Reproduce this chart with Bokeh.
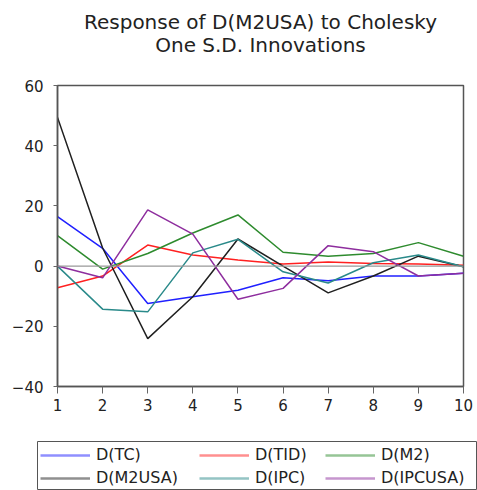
from bokeh.plotting import figure
from bokeh.layouts import column
from bokeh.models import Range1d, Legend, LegendItem, Span, FixedTicker, Title
from bokeh.embed import file_html
from bokeh.resources import INLINE

periods = [1, 2, 3, 4, 5, 6, 7, 8, 9, 10]
d_tc = [16.4, 5.9, -12.4, -10.2, -8.0, -3.9, -4.9, -3.3, -3.3, -2.4]
d_tid = [-7.2, -3.3, 7.0, 3.7, 2.0, 0.7, 1.4, 0.9, 0.7, 0.3]
d_m2 = [10.1, -1.0, 4.2, 11.0, 17.0, 4.6, 3.3, 4.2, 7.8, 3.3]
d_m2usa = [49.4, 6.0, -24.1, -10.2, 9.0, 0.0, -8.9, -3.3, 3.3, -0.2]
d_ipc = [0.0, -14.3, -15.2, 4.4, 8.9, -1.9, -5.6, 1.1, 3.7, -0.2]
d_ipcusa = [0.0, -3.9, 18.7, 10.6, -11.0, -7.4, 6.8, 4.8, -3.3, -2.4]

series = [
    ("D(TC)", d_tc, "#2020ff"),
    ("D(TID)", d_tid, "#ff2020"),
    ("D(M2)", d_m2, "#2e8b2e"),
    ("D(M2USA)", d_m2usa, "#202020"),
    ("D(IPC)", d_ipc, "#2a8a8a"),
    ("D(IPCUSA)", d_ipcusa, "#8e2e9e"),
]

FONT = "DejaVu Sans"

p = figure(width=477, height=430, output_backend="svg", toolbar_location=None,
           x_range=Range1d(1, 10), y_range=Range1d(-40, 60),
           min_border_left=57, min_border_right=14, min_border_top=85,
           min_border_bottom=44)
p.grid.visible = False
p.outline_line_color = "#555555"
p.outline_line_width = 1.5
p.background_fill_color = "white"
p.border_fill_color = "white"

# titles: first added sits closest to the frame
spacer = Title(text=" ", text_font_size="1px", standoff=26)
t2 = Title(text="One S.D. Innovations", align="center", text_font=FONT,
           text_font_size="20px", text_font_style="normal", text_color="#222222",
           standoff=0)
t1 = Title(text="Response of D(M2USA) to Cholesky", align="center",
           text_font=FONT, text_font_size="20px",
           text_font_style="normal", text_color="#222222", standoff=0)
try:
    t1.standoff = -6
except Exception:
    pass
p.add_layout(spacer, "above")
p.add_layout(t2, "above")
p.add_layout(t1, "above")

p.add_layout(Span(location=0, dimension="width", line_color="#999999", line_width=1.2))

for name, vals, col in series:
    p.line(periods, vals, line_color=col, line_width=1.5)

for ax in (p.xaxis[0], p.yaxis[0]):
    ax.axis_line_color = "#555555"
    ax.axis_line_width = 1.5
    ax.major_tick_line_color = "#666666"
    ax.minor_tick_line_color = None
    ax.major_tick_in = 0
    ax.major_label_text_font = FONT
    ax.major_label_text_font_size = "15px"
    ax.major_label_text_color = "#222222"

p.xaxis[0].ticker = FixedTicker(ticks=periods)
p.xaxis[0].major_tick_out = 7
p.xaxis[0].major_label_standoff = 5
p.yaxis[0].ticker = FixedTicker(ticks=[-40, -20, 0, 20, 40, 60])
p.yaxis[0].major_tick_out = 4
p.yaxis[0].major_label_standoff = 10

# legend strip below the chart; its frame outline forms the legend box
lg = figure(width=477, height=60, output_backend="svg", toolbar_location=None,
            x_axis_type=None, y_axis_type=None,
            min_border_left=37, min_border_top=11, min_border_right=0,
            min_border_bottom=0,
            x_range=Range1d(0, 1), y_range=Range1d(0, 1))
lg.grid.visible = False
lg.outline_line_color = "#555555"
lg.outline_line_width = 1
lg.border_fill_color = "white"
for fig in (p, lg):
    try:
        fig.frame_align = False
    except Exception:
        pass

nan = float("nan")
items = []
for name, vals, col in series:
    lr = lg.line([nan, nan], [nan, nan], line_color=col, line_width=2.6, line_alpha=0.5)
    items.append(LegendItem(label=name, renderers=[lr]))

col_x = [3, 162, 288]
for ci in range(3):
    leg = Legend(items=[items[ci], items[ci + 3]], orientation="vertical",
                 location=(col_x[ci], 3),
                 label_text_font=FONT, label_text_font_size="16px",
                 label_text_color="#222222",
                 glyph_width=50, glyph_height=18, label_height=18,
                 label_standoff=6, spacing=4, padding=4, margin=0,
                 border_line_color=None, background_fill_alpha=0.0)
    lg.add_layout(leg, "center")

layout = column(p, lg, spacing=0)
open("out.html", "w").write(file_html(layout, INLINE))
